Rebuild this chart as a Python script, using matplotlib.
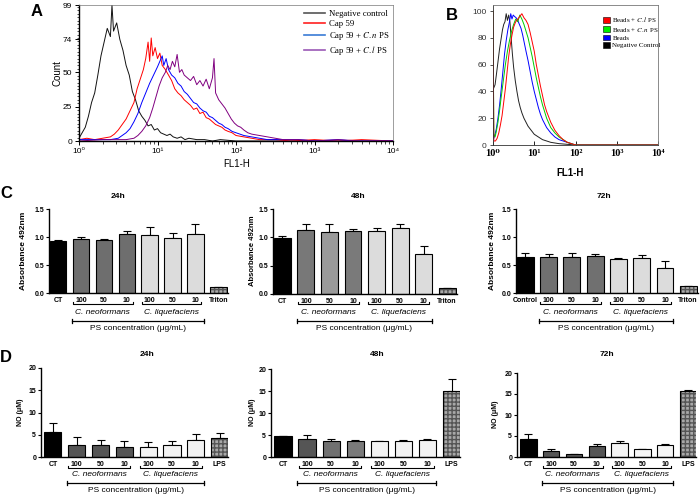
import numpy as np
import matplotlib
matplotlib.use('Agg')
import matplotlib.pyplot as plt
from matplotlib.lines import Line2D
from matplotlib.patches import Patch
from matplotlib import transforms
from matplotlib.ticker import FixedLocator, LogLocator, NullFormatter

plt.rcParams['font.family'] = ['Liberation Sans', 'DejaVu Sans']
plt.rcParams['mathtext.fontset'] = 'stix'

# ---------------- DATA ----------------
# Panel A: flow cytometry histograms (log10 FL1-H, count)
a_neg_x = [0.00, 0.04, 0.08, 0.12, 0.16, 0.20, 0.24, 0.28, 0.32, 0.36, 0.40, 0.42, 0.44, 0.48, 0.52, 0.56,
           0.60, 0.64, 0.68, 0.72, 0.76, 0.80, 0.84, 0.88, 0.92, 0.96, 1.00, 1.04, 1.08, 1.12, 1.16, 1.20,
           1.25, 1.30, 1.35, 1.40, 1.50, 1.60, 1.70, 1.80, 2.0, 2.5, 3.0, 4.0]
a_neg_y = [2, 6, 10, 18, 28, 35, 48, 62, 72, 82, 76, 99, 80, 86, 74, 66,
           55, 48, 36, 30, 22, 18, 15, 11, 12, 8, 9, 6, 5, 4, 5, 3,
           2, 3, 1, 2, 1, 1, 0, 1, 0, 0, 0, 0]
a_cap_x = [0.0, 0.1, 0.2, 0.3, 0.4, 0.45, 0.5, 0.55, 0.6, 0.65, 0.7, 0.74, 0.78, 0.82, 0.85, 0.88, 0.90,
           0.92, 0.94, 0.97, 1.00, 1.03, 1.06, 1.10, 1.14, 1.18, 1.22, 1.26, 1.30, 1.34, 1.38, 1.42, 1.46,
           1.50, 1.54, 1.58, 1.62, 1.66, 1.70, 1.74, 1.78, 1.82, 1.86, 1.90, 1.95, 2.0, 2.1, 2.2, 2.3, 2.5,
           2.7, 3.0, 3.3, 3.6, 4.0]
a_cap_y = [1, 2, 1, 2, 3, 5, 8, 12, 16, 22, 28, 38, 45, 52, 60, 72, 58,
           75, 62, 68, 60, 64, 55, 52, 48, 44, 38, 35, 33, 30, 28, 26, 23,
           24, 20, 21, 17, 16, 14, 12, 11, 10, 8, 7, 6, 4, 3, 2, 1, 1,
           0, 1, 0, 1, 0]
a_cn_x = [0.0, 0.2, 0.4, 0.5, 0.55, 0.6, 0.65, 0.7, 0.75, 0.8, 0.85, 0.9, 0.95, 1.0, 1.03, 1.06, 1.08,
          1.11, 1.14, 1.18, 1.22, 1.26, 1.30, 1.34, 1.38, 1.42, 1.46, 1.50, 1.54, 1.58, 1.62, 1.66, 1.70,
          1.74, 1.78, 1.82, 1.86, 1.90, 1.95, 2.0, 2.05, 2.1, 2.2, 2.3, 2.4, 2.6, 2.8, 3.0, 3.3, 3.5, 4.0]
a_cn_y = [1, 1, 1, 2, 4, 6, 9, 14, 20, 28, 35, 42, 48, 54, 58, 62, 55,
          60, 52, 48, 46, 42, 40, 36, 34, 31, 28, 27, 24, 22, 21, 18, 17,
          15, 13, 12, 10, 9, 7, 6, 5, 4, 3, 2, 1, 1, 1, 0, 1, 0, 0]
a_cl_x = [0.0, 0.3, 0.6, 0.7, 0.75, 0.8, 0.85, 0.9, 0.94, 0.98, 1.02, 1.06, 1.10, 1.13, 1.16, 1.19, 1.22,
          1.25, 1.28, 1.31, 1.34, 1.38, 1.42, 1.46, 1.50, 1.54, 1.58, 1.62, 1.66, 1.70, 1.72, 1.74, 1.78,
          1.82, 1.86, 1.90, 1.94, 1.98, 2.02, 2.06, 2.1, 2.15, 2.2, 2.3, 2.4, 2.5, 2.6, 2.8, 3.0, 3.3, 3.6, 4.0]
a_cl_y = [0, 1, 1, 2, 4, 7, 11, 17, 24, 32, 40, 46, 50, 55, 52, 58, 54,
          63, 50, 52, 48, 46, 44, 47, 41, 44, 40, 45, 38, 46, 60, 35, 30,
          27, 24, 20, 16, 13, 11, 10, 8, 6, 5, 4, 3, 2, 1, 1, 0, 1, 0, 0]
a_labels = ['Negative control', 'Cap 59', 'Cap 59 + $\\mathit{C.n}$ PS', 'Cap 59 + $\\mathit{C.l}$ PS']

# Panel B: bead histograms (log10 FL1-H, % of max)
b_neg_x = [0.00, 0.01, 0.05, 0.08, 0.12, 0.16, 0.20, 0.23, 0.26, 0.29, 0.32, 0.35, 0.38, 0.41, 0.44, 0.47,
           0.50, 0.54, 0.58, 0.62, 0.66, 0.70, 0.75, 0.80, 0.85, 0.90, 0.95, 1.00, 1.10, 1.20, 1.30, 1.40,
           1.60, 1.80, 2.0, 4.0]
b_neg_y = [75, 42, 45, 52, 62, 72, 80, 86, 90, 92, 98, 93, 97, 92, 80, 68,
           58, 48, 40, 33, 28, 24, 20, 17, 14, 12, 10, 8, 6, 4, 3, 2,
           1, 0.5, 0, 0]
b_beads_x = [0.00, 0.02, 0.05, 0.08, 0.12, 0.16, 0.20, 0.24, 0.28, 0.32, 0.36, 0.40, 0.43, 0.46, 0.49, 0.52,
             0.56, 0.60, 0.64, 0.68, 0.72, 0.76, 0.80, 0.85, 0.90, 0.95, 1.00, 1.05, 1.10, 1.15, 1.20, 1.25,
             1.30, 1.40, 1.50, 1.60, 1.70, 1.80, 1.90, 2.0, 4.0]
b_beads_y = [15, 5, 8, 12, 20, 30, 42, 55, 68, 78, 86, 92, 98, 94, 97, 96,
             95, 93, 90, 87, 82, 76, 70, 63, 55, 47, 40, 34, 28, 23, 19, 16,
             13, 9, 6, 4, 3, 2, 1, 0, 0]
b_cn_x = [0.00, 0.02, 0.05, 0.08, 0.12, 0.16, 0.20, 0.25, 0.30, 0.35, 0.40, 0.45, 0.50, 0.55, 0.60, 0.65,
          0.70, 0.75, 0.80, 0.85, 0.90, 0.95, 1.00, 1.05, 1.10, 1.15, 1.20, 1.25, 1.30, 1.40, 1.50, 1.60,
          1.70, 1.80, 1.90, 2.0, 4.0]
b_cn_y = [100, 8, 6, 10, 17, 26, 36, 48, 60, 70, 78, 85, 90, 94, 92, 97,
          94, 90, 85, 80, 73, 66, 58, 50, 43, 36, 30, 25, 20, 13, 9, 6,
          4, 2, 1, 0, 0]
b_cl_x = [0.00, 0.02, 0.06, 0.10, 0.14, 0.18, 0.22, 0.26, 0.30, 0.34, 0.38, 0.42, 0.46, 0.50, 0.55, 0.60,
          0.65, 0.70, 0.75, 0.80, 0.85, 0.90, 0.95, 1.00, 1.05, 1.10, 1.15, 1.20, 1.25, 1.30, 1.40, 1.50,
          1.60, 1.70, 1.80, 1.90, 2.0, 4.0]
b_cl_y = [100, 3, 3, 5, 9, 15, 22, 32, 42, 54, 66, 75, 82, 88, 92, 94,
          96, 98, 95, 93, 90, 84, 77, 70, 60, 52, 44, 37, 30, 25, 17, 11,
          7, 4, 2, 1, 0, 0]
b_labels = ['Beads + $\\mathit{C.l}$ PS', 'Beads + $\\mathit{C.n}$ PS', 'Beads', 'Negative Control']

# Panels C/D: bar data
conc_labels = ['100', '50', '10', '100', '50', '10']
c_yticklabels = ['0.0', '0.5', '1.0', '1.5']
d_yticklabels = ['0', '5', '10', '15', '20']

c24_vals = [0.93, 0.96, 0.94, 1.06, 1.04, 0.98, 1.06, 0.11]
c24_errs = [0.01, 0.04, 0.02, 0.05, 0.13, 0.09, 0.17, 0.00]
c48_vals = [0.99, 1.13, 1.09, 1.11, 1.12, 1.17, 0.70, 0.11]
c48_errs = [0.03, 0.10, 0.14, 0.03, 0.05, 0.07, 0.14, 0.00]
c72_vals = [0.65, 0.64, 0.64, 0.66, 0.61, 0.63, 0.45, 0.12]
c72_errs = [0.06, 0.05, 0.07, 0.03, 0.01, 0.04, 0.13, 0.01]

d24_vals = [5.6, 2.6, 2.6, 2.3, 2.3, 2.8, 3.9, 4.3]
d24_errs = [2.1, 1.9, 1.2, 1.4, 1.0, 0.7, 1.3, 1.1]
d48_vals = [4.8, 4.2, 3.7, 3.7, 3.6, 3.7, 3.9, 15.0]
d48_errs = [0.0, 0.8, 0.4, 0.1, 0.1, 0.2, 0.2, 2.7]
d72_vals = [4.3, 1.4, 0.6, 2.6, 3.3, 1.8, 2.8, 15.7]
d72_errs = [1.1, 0.6, 0.2, 0.5, 0.4, 0.1, 0.2, 0.2]

# ---------------- FIGURE ----------------
W, H = 700, 496
fig = plt.figure(figsize=(7, 4.96), dpi=100)


def add_ax(l, t, r, b):
    return fig.add_axes([l / W, 1 - b / H, (r - l) / W, (b - t) / H])


def ftext(x, y, s, **kw):
    kw.setdefault('ha', 'center')
    kw.setdefault('va', 'center')
    fig.text(x / W, 1 - y / H, s, **kw)


sup = ['10\u2070', '10\u00b9', '10\u00b2', '10\u00b3', '10\u2074']

# ---- Panel A ----
axA = add_ax(79, 5, 393, 141)
a_cols = ['#111111', '#ff0000', '#0000ff', '#800080']
for xs, ys, c in zip([a_neg_x, a_cap_x, a_cn_x, a_cl_x], [a_neg_y, a_cap_y, a_cn_y, a_cl_y], a_cols):
    axA.plot(10 ** np.array(xs), ys, color=c, lw=0.7)
axA.set_xscale('log')
axA.set_xlim(1, 1e4)
axA.set_ylim(0, 99)
axA.set_yticks([0, 25, 50, 74, 99])
axA.yaxis.set_minor_locator(FixedLocator(np.arange(0, 99, 2.5)))
axA.set_xticks([1, 10, 100, 1000, 10000])
axA.set_xticklabels(sup)
axA.xaxis.set_minor_locator(LogLocator(base=10, subs=np.arange(2, 10)))
axA.xaxis.set_minor_formatter(NullFormatter())
axA.tick_params(labelsize=6, length=3, width=0.7, pad=2)
axA.tick_params(which='minor', length=1.8, width=0.5)
for s in ['left', 'bottom']:
    axA.spines[s].set_linewidth(1.0)
for s in ['top', 'right']:
    axA.spines[s].set_linewidth(0.5)
    axA.spines[s].set_color('#777777')
ftext(58, 73, 'Count', rotation=90, fontsize=7)
ftext(237, 164, 'FL1-H', fontsize=7)
ftext(37, 11, 'A', fontsize=12, fontweight='bold')
a_leg_cols = ['#555555', '#ff2020', '#3a7bd5', '#9b59b6']
handles = [Line2D([], [], color=c, lw=1.2) for c in a_leg_cols]
axA.legend(handles, a_labels, loc='upper left', bbox_to_anchor=(300 / W, 1 - 6 / H),
           bbox_transform=fig.transFigure, frameon=False, handlelength=2.3,
           labelspacing=0.2, handletextpad=0.5, borderpad=0,
           prop={'family': ['Liberation Serif', 'DejaVu Serif'], 'size': 6.3})

# ---- Panel B ----
axB = add_ax(493, 5, 658, 145)
b_cols = ['#222222', '#0000ff', '#00cc00', '#ff0000']
for xs, ys, c in zip([b_neg_x, b_beads_x, b_cn_x, b_cl_x], [b_neg_y, b_beads_y, b_cn_y, b_cl_y], b_cols):
    axB.plot(10 ** np.array(xs), ys, color=c, lw=0.7)
axB.set_xscale('log')
axB.set_xlim(1, 1e4)
axB.set_ylim(0, 104.5)
axB.set_yticks([0, 20, 40, 60, 80, 100])
axB.set_xticks([1, 10, 100, 1000, 10000])
axB.set_xticklabels(sup, fontfamily=['Liberation Serif', 'DejaVu Serif'], fontweight='bold', fontsize=7.5)
axB.xaxis.set_minor_locator(LogLocator(base=10, subs=np.arange(2, 10)))
axB.xaxis.set_minor_formatter(NullFormatter())
axB.tick_params(axis='y', labelsize=6, length=2.5, width=0.6, pad=2, colors='#333333')
axB.tick_params(axis='x', length=3, width=0.6, pad=3, direction='in')
axB.tick_params(axis='x', which='minor', length=2, width=0.5, direction='in')
for s in axB.spines.values():
    s.set_linewidth(0.6)
    s.set_color('#777777')
axB.spines['left'].set_color('#333333')
axB.spines['bottom'].set_color('#333333')
ftext(570, 173, 'FL1-H', fontsize=7, fontweight='bold')
ftext(452, 16, 'B', fontsize=12, fontweight='bold')
b_leg_cols = ['#ff0000', '#00ee00', '#0000ff', '#000000']
handles = [Patch(facecolor=c, edgecolor='k', lw=0.4) for c in b_leg_cols]
axB.legend(handles, b_labels, loc='upper left', bbox_to_anchor=(600 / W, 1 - 12 / H),
           bbox_transform=fig.transFigure, frameon=False, handlelength=0.9, handleheight=0.9,
           labelspacing=0.15, handletextpad=0.4, borderpad=0,
           prop={'family': ['Liberation Serif', 'DejaVu Serif'], 'size': 5})


# ---- Bar panels ----
def bar_panel(box, vals, errs, colors, first_label, last_label, ylim, yticks, yticklabels,
              xlim, title, title_xy, ylabel, ylabel_xy, ann, ylabel_size):
    ax = add_ax(*box)
    x = np.arange(len(vals))
    ax.errorbar(x, vals, yerr=[np.zeros(len(errs)), errs], fmt='none', ecolor='k',
                elinewidth=0.8, capsize=3, capthick=0.8, zorder=1)
    for i, (v, c) in enumerate(zip(vals, colors)):
        if c == 'hatch':
            ax.bar(x[i], v, width=0.72, facecolor='#a8a8a8', edgecolor='#555555', hatch='++++',
                   lw=0, zorder=2)
            ax.bar(x[i], v, width=0.72, fill=False, edgecolor='k', lw=0.8, zorder=3)
        else:
            ax.bar(x[i], v, width=0.72, color=c, edgecolor='k', lw=0.8, zorder=2)
    ax.set_xlim(*xlim)
    ax.set_ylim(*ylim)
    ax.set_yticks(yticks)
    ax.set_yticklabels(yticklabels)
    ax.set_xticks(x)
    ax.set_xticklabels([first_label] + conc_labels + [last_label])
    for lab in ax.get_xticklabels() + ax.get_yticklabels():
        lab.set_fontweight('bold')
    ax.tick_params(axis='y', labelsize=5, length=2.5, width=0.8, pad=1)
    ax.tick_params(axis='x', labelsize=5, length=0, pad=3)
    for s in ['top', 'right']:
        ax.spines[s].set_visible(False)
    for s in ['left', 'bottom']:
        ax.spines[s].set_linewidth(1.0)
    ftext(*title_xy, title, fontsize=6, fontweight='bold')
    ftext(*ylabel_xy, ylabel, rotation=90, fontsize=ylabel_size, fontweight='bold')
    tr = transforms.blended_transform_factory(ax.transData, fig.transFigure)
    yb, ysp, yps, ypt = [1 - v / H for v in ann]
    up = 2.0 / H
    for (x0, x1), name in [((0.65, 3.25), 'C. neoformans'), ((3.65, 6.25), 'C. liquefaciens')]:
        ax.add_line(Line2D([x0, x0, x1, x1], [yb + up, yb, yb, yb + up], transform=tr,
                           color='k', lw=0.8, clip_on=False))
        fig.text((x0 + x1) / 2, ysp, name, transform=tr, ha='center', va='center',
                 fontsize=6, style='italic')
    p0, p1 = 0.6, 6.35
    ax.add_line(Line2D([p0, p1], [yps, yps], transform=tr, color='k', lw=0.9, clip_on=False))
    for px in (p0, p1):
        ax.add_line(Line2D([px, px], [yps - up, yps + up], transform=tr, color='k', lw=0.9,
                           clip_on=False))
    fig.text((p0 + p1) / 2, ypt, 'PS concentration (\u03bcg/mL)', transform=tr, ha='center',
             va='center', fontsize=6)
    return ax


c_ann = (304, 313, 321, 328)
d_ann = (468, 475, 483, 491)
c_xlim = (-0.4, 7.42)
d_xlim = (-0.5, 7.35)

bar_panel((49, 209, 228, 293), c24_vals, c24_errs,
          ['#000000'] + ['#6e6e6e'] * 3 + ['#dcdcdc'] * 3 + ['hatch'], 'CT', 'Triton',
          (0, 1.5), [0, 0.5, 1.0, 1.5], c_yticklabels, c_xlim, '24h', (118, 197),
          'Absorbance 492nm', (24, 251), c_ann, 6)
bar_panel((273, 209, 457, 294), c48_vals, c48_errs,
          ['#000000', '#787878', '#9a9a9a', '#7a7a7a'] + ['#dcdcdc'] * 3 + ['hatch'], 'CT', 'Triton',
          (0, 1.5), [0, 0.5, 1.0, 1.5], c_yticklabels, c_xlim, '48h', (358, 197),
          'Absorbance 492nm', (253, 251), c_ann, 5.5)
bar_panel((516, 209, 698, 293), c72_vals, c72_errs,
          ['#000000'] + ['#707070'] * 3 + ['#dcdcdc'] * 3 + ['hatch'], 'Control', 'Triton',
          (0, 1.5), [0, 0.5, 1.0, 1.5], c_yticklabels, c_xlim, '72h', (604, 197),
          'Absorbance 492nm', (493, 251), c_ann, 6)

bar_panel((41, 368, 228, 457), d24_vals, d24_errs,
          ['#000000'] + ['#555555'] * 3 + ['#f2f2f2'] * 3 + ['hatch'], 'CT', 'LPS',
          (0, 20), [0, 5, 10, 15, 20], d_yticklabels, d_xlim, '24h', (147, 354),
          'NO (\u03bcM)', (21, 412), d_ann, 5)
bar_panel((271, 369, 460, 457), d48_vals, d48_errs,
          ['#000000', '#555555', '#707070', '#7a7a7a'] + ['#f2f2f2'] * 3 + ['hatch'], 'CT', 'LPS',
          (0, 20), [0, 5, 10, 15, 20], d_yticklabels, d_xlim, '48h', (377, 354),
          'NO (\u03bcM)', (252, 412), d_ann, 5)
bar_panel((517, 373, 696, 457), d72_vals, d72_errs,
          ['#000000'] + ['#555555'] * 3 + ['#f5f5f5'] * 3 + ['hatch'], 'CT', 'LPS',
          (0, 20), [0, 5, 10, 15, 20], d_yticklabels, d_xlim, '72h', (607, 354),
          'NO (\u03bcM)', (495, 414), d_ann, 5)

ftext(6, 193, 'C', fontsize=12, fontweight='bold')
ftext(6, 357, 'D', fontsize=12, fontweight='bold')

fig.savefig('out.png', dpi=100)
